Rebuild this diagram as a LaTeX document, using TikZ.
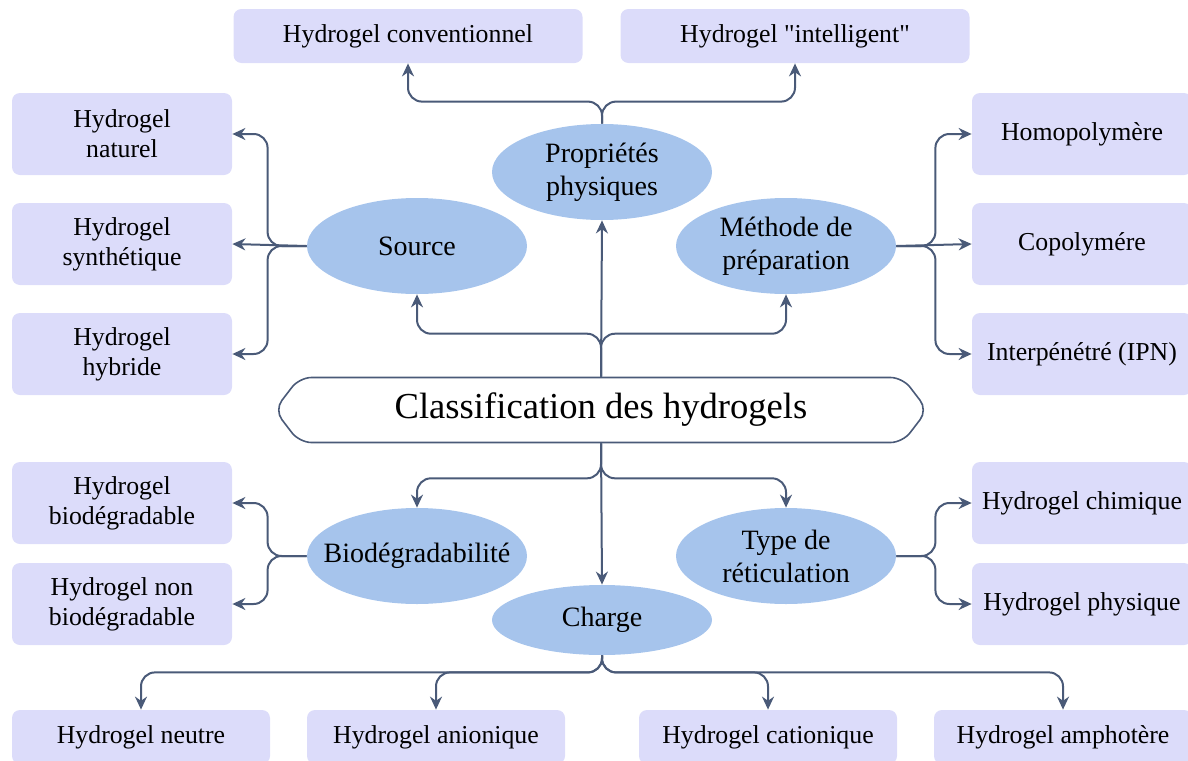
\documentclass[tikz,border=0pt]{standalone}
\usepackage{fontspec}
\setmainfont{Liberation Serif}
\usetikzlibrary{arrows.meta,positioning,shapes.geometric,shapes.symbols}
\definecolor{boxfill}{HTML}{DCDCFA}
\definecolor{ovalfill}{HTML}{A6C4EC}
\definecolor{linec}{HTML}{4A5A78}
\tikzset{
  leaf/.style={fill=boxfill,rounded corners=4pt,align=center,
    minimum width=110pt,minimum height=41pt,inner sep=2pt,
    font=\fontsize{12.9}{15}\selectfont},
  wideleaf/.style={leaf,minimum width=174.5pt,minimum height=27pt},
  rowleaf/.style={leaf,minimum width=129pt,minimum height=27pt},
  group/.style={ellipse,fill=ovalfill,align=center,minimum width=110pt,
    minimum height=48pt,inner xsep=-8pt,inner ysep=0pt,
    font=\fontsize{14}{16.5}\selectfont},
  root/.style={signal,signal to=east and west,signal pointer angle=105,
    draw=linec,line width=0.8pt,fill=white,rounded corners=6pt,
    minimum width=326.5pt,minimum height=32.5pt,
    font=\fontsize{18.3}{20}\selectfont},
  arrow/.style={-{Stealth[length=6.5pt,width=6pt]},draw=linec,
    line width=1pt,rounded corners=7pt}
}
\begin{document}
\begin{tikzpicture}[x=0.5pt,y=-0.5pt]
  \useasboundingbox (0,0) rectangle (1188,760);
  % centre
  \node[root] (cls) at (601,410) {Classification des hydrogels};
  % groupes
  \node[group] (phys) at (602,172) {Propriétés\\physiques};
  \node[group] (src) at (417,246) {Source};
  \node[group] (meth) at (786,246) {Méthode de\\préparation};
  \node[group] (bio) at (417,556) {Biodégradabilité};
  \node[group] (ret) at (786,556) {Type de\\réticulation};
  \node[group,minimum height=35pt] (chg) at (602,620) {Charge};
  % feuilles
  \node[wideleaf] (conv) at (408,36) {Hydrogel conventionnel};
  \node[wideleaf] (intel) at (795,36) {Hydrogel \textquotedbl intelligent\textquotedbl};
  \node[leaf] (nat) at (122,134) {Hydrogel\\naturel};
  \node[leaf] (syn) at (122,244) {Hydrogel\\synthétique};
  \node[leaf] (hyb) at (122,354) {Hydrogel\\hybride};
  \node[leaf] (homo) at (1082,134) {Homopolymère};
  \node[leaf] (copo) at (1082,244) {Copolymére};
  \node[leaf] (ipn) at (1082,354) {Interpénétré (IPN)};
  \node[leaf] (biod) at (122,503) {Hydrogel\\biodégradable};
  \node[leaf] (nbio) at (122,604) {Hydrogel non\\biodégradable};
  \node[leaf] (chim) at (1082,503) {Hydrogel chimique};
  \node[leaf] (phy) at (1082,604) {Hydrogel physique};
  \node[rowleaf] (neu) at (141,737) {Hydrogel neutre};
  \node[rowleaf] (ani) at (436,737) {Hydrogel anionique};
  \node[rowleaf] (cat) at (768,737) {Hydrogel cationique};
  \node[rowleaf] (amp) at (1063,737) {Hydrogel amphotère};
  % haut
  \draw[arrow] (cls.north) -- (phys.south);
  \draw[arrow] (cls.north) -- ++(0,-43) -| (src.south);
  \draw[arrow] (cls.north) -- ++(0,-43) -| (meth.south);
  \draw[arrow] (phys.north) -- ++(0,-22) -| (conv.south);
  \draw[arrow] (phys.north) -- ++(0,-22) -| (intel.south);
  \draw[arrow] (src.west) -- ++(-39,0) |- (nat.east);
  \draw[arrow] (src.west) -- (syn.east);
  \draw[arrow] (src.west) -- ++(-39,0) |- (hyb.east);
  \draw[arrow] (meth.east) -- ++(39,0) |- (homo.west);
  \draw[arrow] (meth.east) -- (copo.west);
  \draw[arrow] (meth.east) -- ++(39,0) |- (ipn.west);
  % bas
  \draw[arrow] (cls.south) -- (chg.north);
  \draw[arrow] (cls.south) -- ++(0,35) -| (bio.north);
  \draw[arrow] (cls.south) -- ++(0,35) -| (ret.north);
  \draw[arrow] (bio.west) -- ++(-39,0) |- (biod.east);
  \draw[arrow] (bio.west) -- ++(-39,0) |- (nbio.east);
  \draw[arrow] (ret.east) -- ++(39,0) |- (chim.west);
  \draw[arrow] (ret.east) -- ++(39,0) |- (phy.west);
  \draw[arrow] (chg.south) -- ++(0,17) -| (neu.north);
  \draw[arrow] (chg.south) -- ++(0,17) -| (ani.north);
  \draw[arrow] (chg.south) -- ++(0,17) -| (cat.north);
  \draw[arrow] (chg.south) -- ++(0,17) -| (amp.north);
\end{tikzpicture}
\end{document}
